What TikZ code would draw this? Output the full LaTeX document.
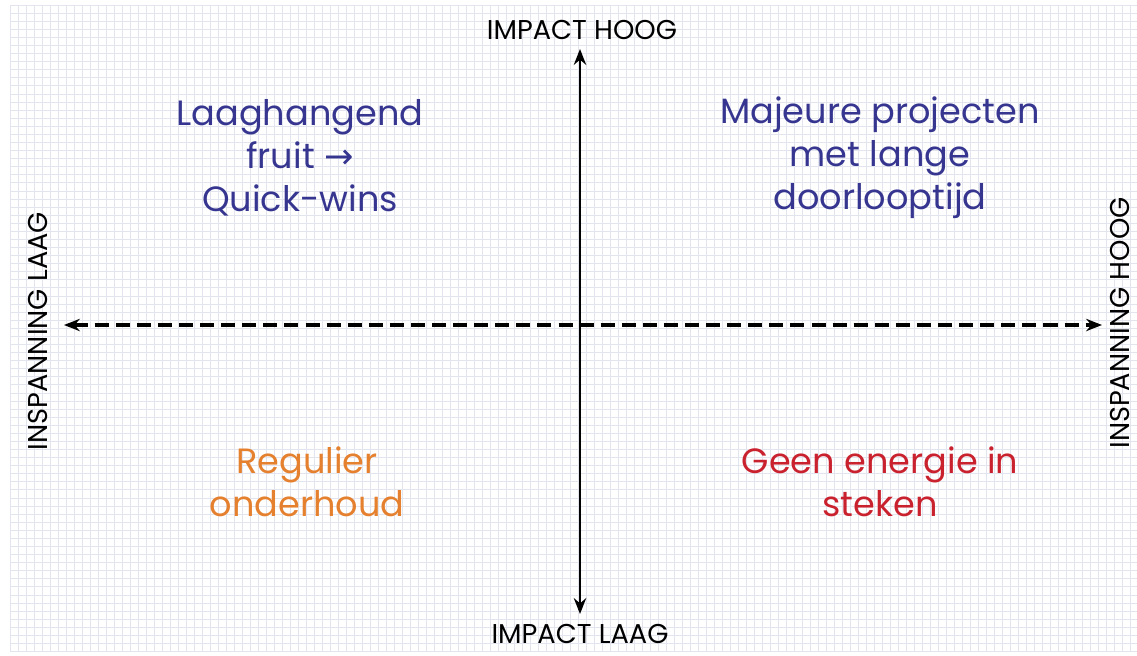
\documentclass[tikz,border=0pt]{standalone}
\usepackage{fontspec}
\setmainfont{Poppins}
\newfontfamily\arrowfont{DejaVu Sans}
\usetikzlibrary{arrows.meta}
\definecolor{gridc}{HTML}{E3E5EE}
\definecolor{qblue}{HTML}{363690}
\definecolor{qorange}{HTML}{E5812E}
\definecolor{qred}{HTML}{C9222E}
\tikzset{
  axislabel/.style={font=\fontsize{15.5}{18}\selectfont, text=black, inner sep=0pt},
  quadtext/.style={font=\fontsize{20}{24.5}\selectfont, align=center, inner sep=0pt},
  axisline/.style={line width=1.5pt, {Stealth[length=9pt,width=7pt]}-{Stealth[length=9pt,width=7pt]}},
  dashline/.style={line width=1.9pt, dash pattern=on 8pt off 4pt, {Stealth[length=9pt,width=7pt]}-{Stealth[length=9pt,width=7pt]}}
}
\begin{document}
\begin{tikzpicture}[x=0.02cm,y=-0.02cm]
\useasboundingbox (0,0) rectangle (1137,656);
\fill[white] (0,0) rectangle (1137,656);
% grid
\foreach \i in {0,...,141} {
  \draw[gridc, line width=0.35pt] ({10+\i*8},5) -- ({10+\i*8},652);
}
\foreach \j in {0,...,80} {
  \draw[gridc, line width=0.35pt] (10,{5+\j*8.08}) -- (1137,{5+\j*8.08});
}
% axis labels
\node[axislabel] (ihoog) at (582,30) {IMPACT HOOG};
\node[axislabel] (ilaag) at (580,634) {IMPACT LAAG};
\node[axislabel, rotate=90] (slaag) at (38,331) {INSPANNING LAAG};
\node[axislabel, rotate=90] (shoog) at (1120,323) {INSPANNING HOOG};
% axes
\coordinate (vtop) at (580,49);
\coordinate (vbot) at (580,614);
\coordinate (hl) at (64,325);
\coordinate (hr) at (1102,325);
\draw[axisline] (vbot) -- (vtop);
\draw[dashline] (hl) -- (hr);
% quadrants
\node[quadtext, text=qblue] (q1) at (300,158) {Laaghangend\\fruit {\arrowfont →}\\Quick-wins};
\node[quadtext, text=qblue] (q2) at (880,158) {Majeure projecten\\met lange\\doorlooptijd};
\node[quadtext, text=qorange] (q3) at (307,482) {Regulier\\onderhoud};
\node[quadtext, text=qred] (q4) at (880,482) {Geen energie in\\steken};
\end{tikzpicture}
\end{document}
